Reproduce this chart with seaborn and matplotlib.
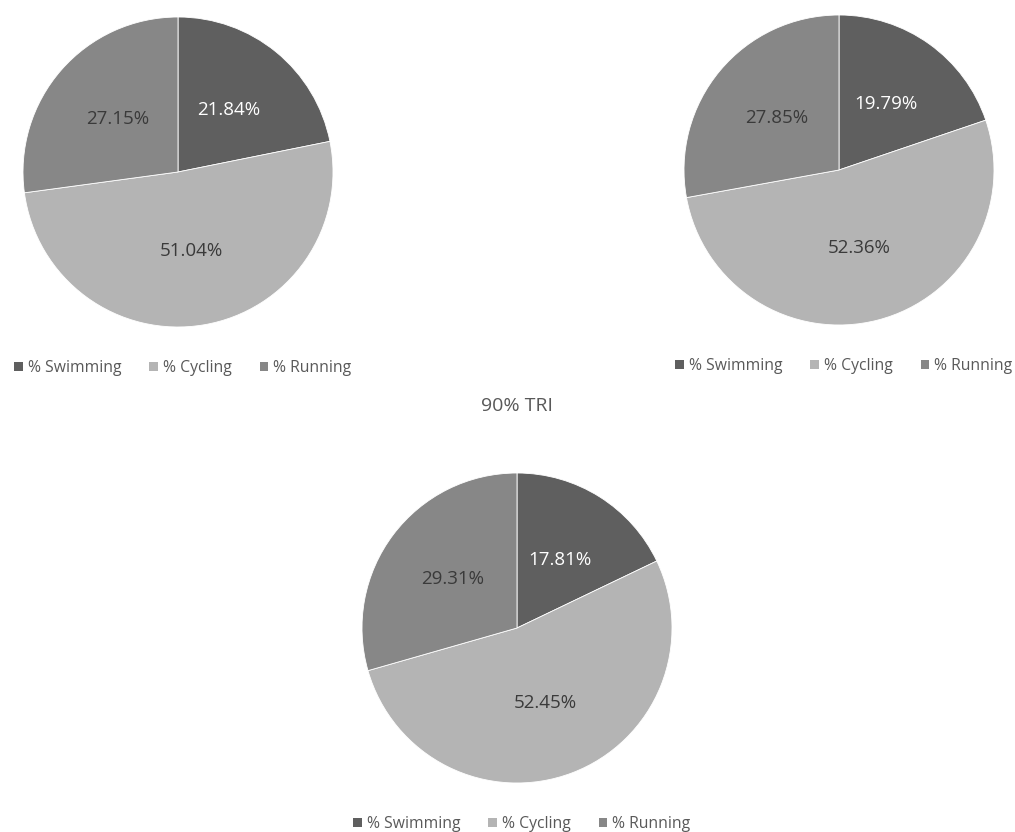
import matplotlib
matplotlib.use("Agg")
import matplotlib.pyplot as plt
import seaborn as sns
from matplotlib.patches import Patch

sns.set_theme(style="white")
plt.rcParams['font.family'] = ['Open Sans', 'DejaVu Sans']

categories = ["% Swimming", "% Cycling", "% Running"]
pie1_values = [21.84, 51.04, 27.15]
pie2_values = [19.79, 52.36, 27.85]
pie3_values = [17.81, 52.45, 29.31]
pie3_title = "90% TRI"

colors = ["#5f5f5f", "#b4b4b4", "#878787"]
label_colors = ["white", "#3a3a3a", "#3a3a3a"]
text_gray = "#595959"

W, H = 1015, 832
R = 155
fig = plt.figure(figsize=(W / 100, H / 100), dpi=100)
fig.patch.set_facecolor("white")


def make_ax(cx, cy):
    return fig.add_axes([(cx - R) / W, (H - cy - R) / H, 2 * R / W, 2 * R / H])


def draw_pie(ax, values, title=None):
    wedges, texts, autotexts = ax.pie(
        values, colors=colors, startangle=90, counterclock=False,
        autopct=lambda p: "", pctdistance=0.52,
        wedgeprops=dict(edgecolor="white", linewidth=0.6), radius=1.0)
    for at, v, c in zip(autotexts, values, label_colors):
        at.set_text(f"{v:.2f}%")
        at.set_color(c)
        at.set_fontsize(13.5)
    ax.set_xlim(-1, 1)
    ax.set_ylim(-1, 1)
    ax.set_aspect("equal")
    ax.axis("off")
    handles = [Patch(facecolor=c, edgecolor="none") for c in colors]
    ax.legend(handles, categories, loc="center", bbox_to_anchor=(0.515, -0.132),
              ncol=3, frameon=False, fontsize=11.3, handlelength=0.55,
              handleheight=0.55, handletextpad=0.3, columnspacing=1.8,
              labelcolor=text_gray)
    if title:
        ax.text(0.5, 1 + 67 / (2 * R), title, transform=ax.transAxes,
                ha="center", va="center", fontsize=14, color=text_gray)


draw_pie(make_ax(178, 172), pie1_values)
draw_pie(make_ax(839, 170), pie2_values)
draw_pie(make_ax(517, 628), pie3_values, pie3_title)

fig.savefig("out.png", dpi=100, facecolor="white")
